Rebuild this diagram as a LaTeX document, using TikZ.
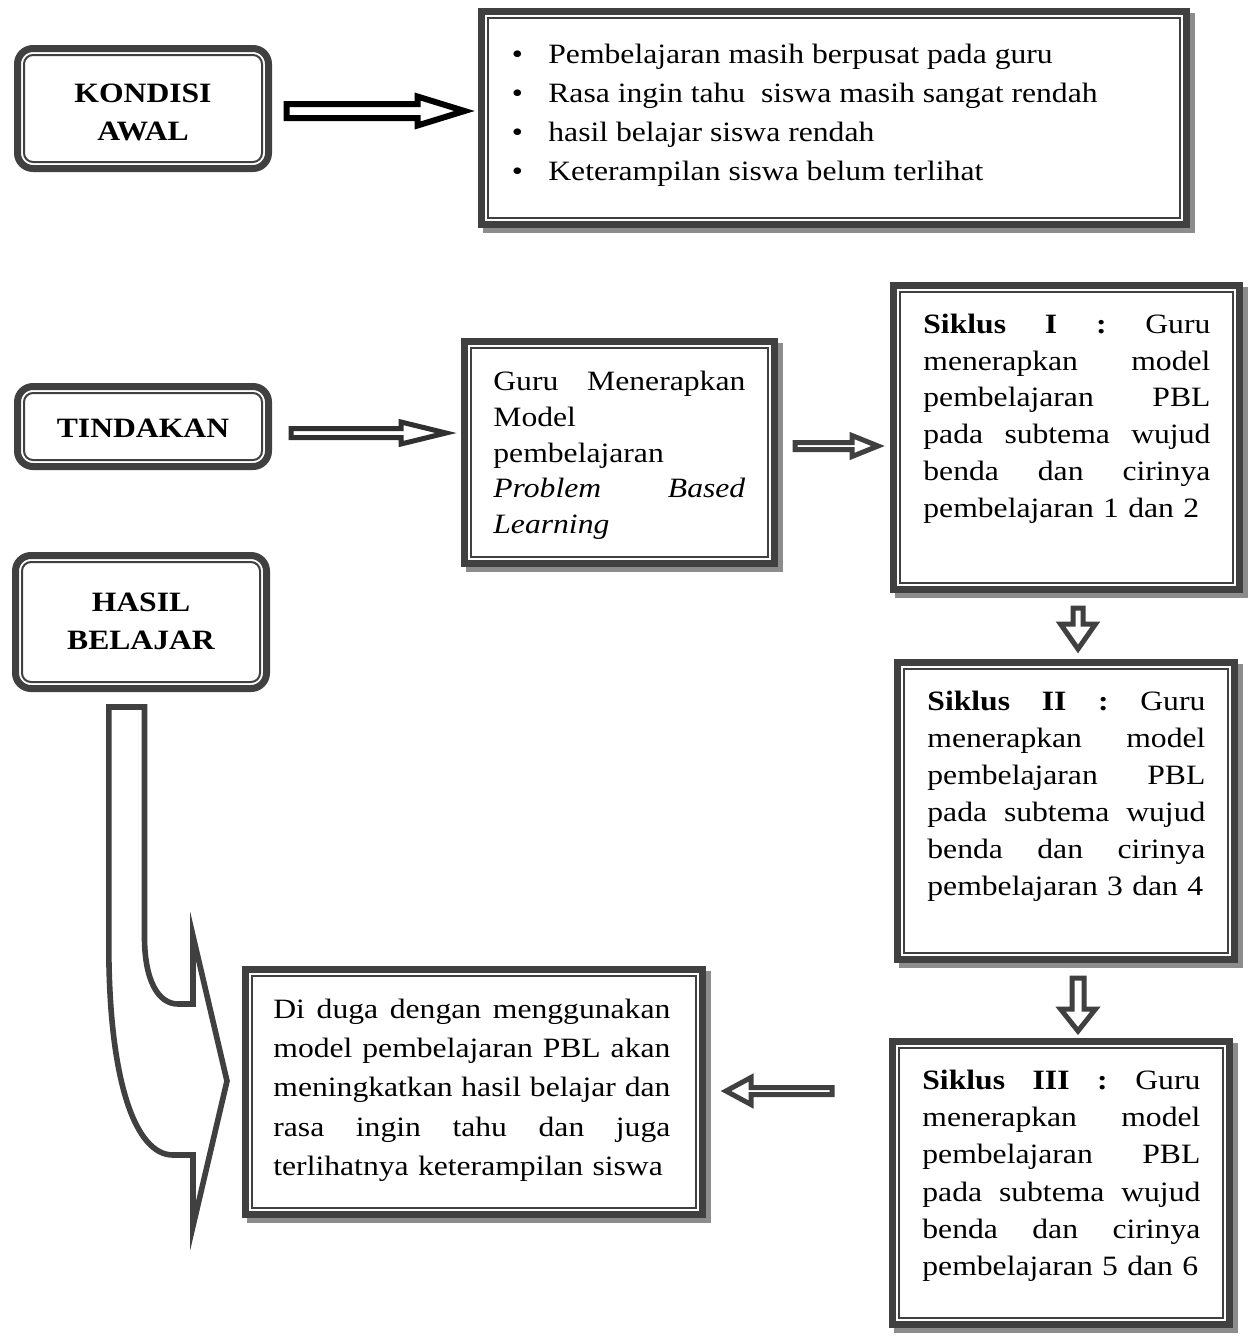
\documentclass[tikz,border=0pt]{standalone}
\usepackage{fontspec}
\setmainfont{Liberation Serif}[FakeStretch=1.13]
\usetikzlibrary{calc}

\definecolor{dk}{HTML}{404040}
\definecolor{shd}{HTML}{8C8C8C}
\definecolor{dk2}{HTML}{303030}

% one justified line of a paragraph
\newcommand\jl[1]{\leavevmode\hbox to \hsize{\spaceskip=0.25em plus 1fil\relax #1}}

% outlined block arrows: style, tail point, tip point, shaft half width, head half width, head length
\newcommand\blkR[6]{\draw[#1] let \p1=#2, \p2=#3 in
  (\x1,\y1+#4) -- (\x2-#6,\y1+#4) -- (\x2-#6,\y1+#5) -- (\x2,\y1) --
  (\x2-#6,\y1-#5) -- (\x2-#6,\y1-#4) -- (\x1,\y1-#4) -- cycle;}
\newcommand\blkL[6]{\draw[#1] let \p1=#2, \p2=#3 in
  (\x1,\y1+#4) -- (\x2+#6,\y1+#4) -- (\x2+#6,\y1+#5) -- (\x2,\y1) --
  (\x2+#6,\y1-#5) -- (\x2+#6,\y1-#4) -- (\x1,\y1-#4) -- cycle;}
\newcommand\blkD[6]{\draw[#1] let \p1=#2, \p2=#3 in
  (\x1+#4,\y1) -- (\x1+#4,\y2+#6) -- (\x1+#5,\y2+#6) -- (\x1,\y2) --
  (\x1-#5,\y2+#6) -- (\x1-#4,\y2+#6) -- (\x1-#4,\y1) -- cycle;}

\tikzset{
  panel/.style={draw=dk, line width=3.5pt, fill=white, inner sep=0pt,
    preaction={fill=shd, draw=shd, transform canvas={xshift=2.5pt, yshift=-2.5pt}},
    path picture={\draw[dk, line width=1pt, sharp corners]
      ([shift={(3.25pt,-3.25pt)}]path picture bounding box.north west) rectangle
      ([shift={(-3.25pt,3.25pt)}]path picture bounding box.south east);}},
  rpanel/.style={draw=dk, line width=3.5pt, fill=white, inner sep=0pt, rounded corners=7.75pt,
    path picture={\draw[dk, line width=1pt, rounded corners=4.5pt]
      ([shift={(3.25pt,-3.25pt)}]path picture bounding box.north west) rectangle
      ([shift={(-3.25pt,3.25pt)}]path picture bounding box.south east);}},
  txt/.style={inner sep=0pt, anchor=north west, align=left},
  head/.style={inner sep=0pt, anchor=north, align=center,
    font=\fontsize{14}{19}\selectfont\bfseries},
  blk/.style={fill=white, line join=miter, miter limit=20, line width=2.5pt, draw=dk},
}

\begin{document}
\begin{tikzpicture}[x=0.5pt, y=-0.5pt]
\useasboundingbox (0,0) rectangle (1256,1340);
\fill[white] (0,0) rectangle (1256,1340);

% ---- left column labels ----
\node[rpanel, minimum width=125.5pt, minimum height=60pt] (kondisi) at (143,108.5) {};
\node[head] (kondisi-t) at (143,75.4) {\strut KONDISI\\AWAL};

\node[rpanel, minimum width=125.5pt, minimum height=40pt] (tindakan) at (143,426.5) {};
\node[head] (tindakan-t) at (143,410.4) {\strut TINDAKAN};

\node[rpanel, minimum width=125.5pt, minimum height=66.5pt] (hasil) at (141,622) {};
\node[head] (hasil-t) at (141,584.4) {\strut HASIL\\BELAJAR};

% ---- initial condition ----
\node[panel, minimum width=352.5pt, minimum height=106.5pt] (ket) at (834,118) {};
\node[txt, font=\fontsize{14}{19.5}\selectfont] (ket-t) at (511.5,35.7)
  {\strut\makebox[18.25pt][l]{\textbullet}Pembelajaran masih berpusat pada guru\\
   \makebox[18.25pt][l]{\textbullet}Rasa ingin tahu\ \ siswa masih sangat rendah\\
   \makebox[18.25pt][l]{\textbullet}hasil belajar siswa rendah\\
   \makebox[18.25pt][l]{\textbullet}Keterampilan siswa belum terlihat};

% ---- action ----
\node[panel, minimum width=155pt, minimum height=111pt] (guru) at (619.5,452.5) {};
\node[txt, text width=126pt, font=\fontsize{14}{17.8}\selectfont] (guru-t) at (493,365.5)
  {\strut\jl{Guru Menerapkan}\\
   Model\\
   pembelajaran\\
   \jl{\textit{Problem Based}}\\
   \textit{Learning}};

% ---- cycles ----
\node[panel, minimum width=173pt, minimum height=152pt] (s1) at (1066.5,437.5) {};
\node[txt, text width=143.5pt, font=\fontsize{14}{18.4}\selectfont] (s1-t) at (923,307.2)
  {\strut\jl{\textbf{Siklus I :} Guru}\\
   \jl{menerapkan model}\\
   \jl{pembelajaran PBL}\\
   \jl{pada subtema wujud}\\
   \jl{benda dan cirinya}\\
   pembelajaran 1 dan 2};

\node[panel, minimum width=168.5pt, minimum height=148.5pt] (s2) at (1066,811) {};
\node[txt, text width=139pt, font=\fontsize{14}{18.5}\selectfont] (s2-t) at (927,684.1)
  {\strut\jl{\textbf{Siklus II :} Guru}\\
   \jl{menerapkan model}\\
   \jl{pembelajaran PBL}\\
   \jl{pada subtema wujud}\\
   \jl{benda dan cirinya}\\
   pembelajaran 3 dan 4};

\node[panel, minimum width=168.5pt, minimum height=141.5pt] (s3) at (1061,1183) {};
\node[txt, text width=139pt, font=\fontsize{14}{18.6}\selectfont] (s3-t) at (922,1063)
  {\strut\jl{\textbf{Siklus III :} Guru}\\
   \jl{menerapkan model}\\
   \jl{pembelajaran PBL}\\
   \jl{pada subtema wujud}\\
   \jl{benda dan cirinya}\\
   pembelajaran 5 dan 6};

% ---- hypothesis ----
\node[panel, minimum width=228.5pt, minimum height=122.5pt] (hip) at (474,1092) {};
\node[txt, text width=198.5pt, font=\fontsize{14}{19.6}\selectfont] (hip-t) at (273,990.6)
  {\strut\jl{Di duga dengan menggunakan}\\
   \jl{model pembelajaran PBL akan}\\
   \jl{meningkatkan hasil belajar dan}\\
   \jl{rasa ingin tahu dan juga}\\
   terlihatnya keterampilan siswa};

% ---- block arrows ----
\blkR{blk, draw=black, line width=3pt}{($(kondisi.east)+(14.5,2.5)$)}{($(ket.west)+(-13.5,0)$)}{3.5pt}{7.25pt}{23.5pt}
\blkR{blk, draw=dk2}{($(tindakan.east)+(19,6.5)$)}{($(guru.west)+(-15,0)$)}{2.25pt}{5.5pt}{22.5pt}
\blkR{blk}{($(guru.east)+(17,-6.5)$)}{($(s1.west)+(-12,0)$)}{1.75pt}{5.25pt}{13pt}
\blkD{blk}{($(s1.south)+(11.5,15)$)}{($(s2.north)+(0,-10)$)}{2.5pt}{8.75pt}{12.5pt}
\blkD{blk}{($(s2.south)+(12,15)$)}{($(s3.north)+(0,-7)$)}{3pt}{8.75pt}{11pt}
\blkL{blk}{($(s3.west)+(-57,-92)$)}{($(hip.east)+(20,0)$)}{1.75pt}{6.75pt}{12.5pt}

% ---- bent arrow from the result label to the hypothesis ----
\draw[dk, line width=2.8pt, fill=white, line join=miter, miter limit=20]
  (108.8,707) -- (144.5,707) -- (144.5,937)
  .. controls (144.5,980) and (158,1004) .. (178,1004)
  -- (193,1004) -- (193,936) -- (227,1081) -- (193,1226) -- (193,1155) -- (173,1155)
  .. controls (135,1155) and (108.8,1080) .. (108.8,945) -- cycle;
\end{tikzpicture}
\end{document}
